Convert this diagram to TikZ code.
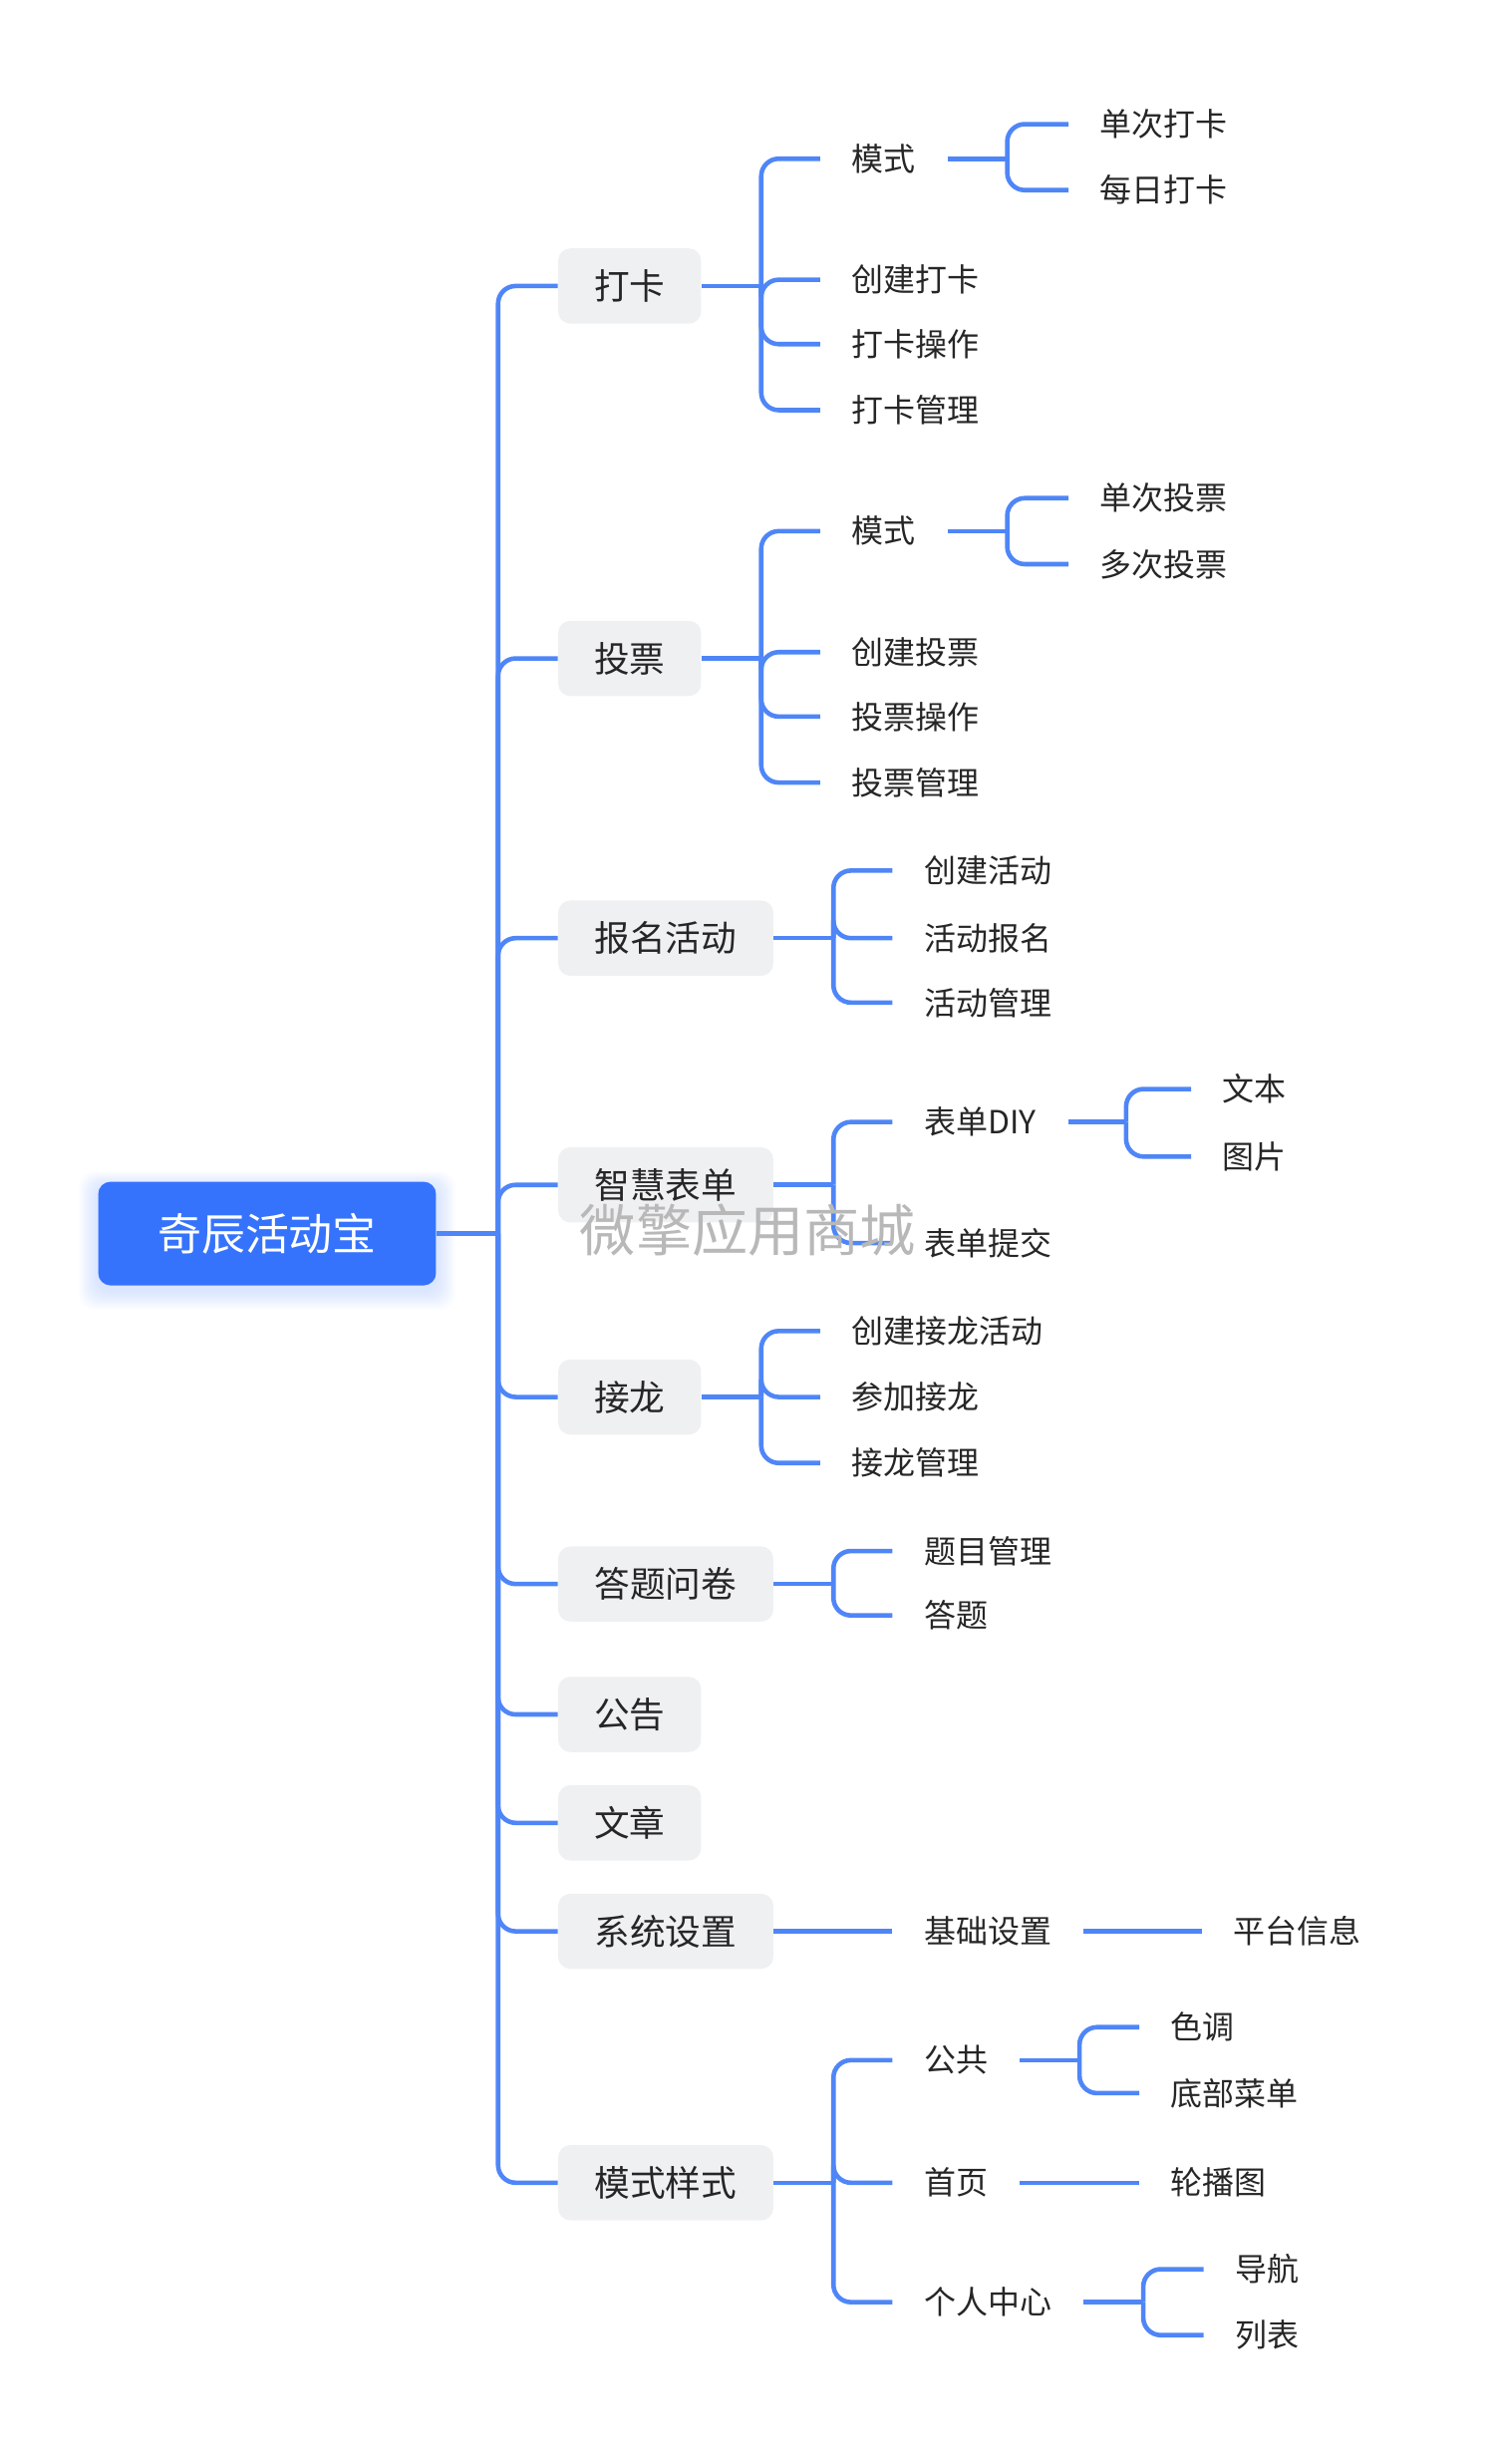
\documentclass[tikz,border=0pt]{standalone}
\usepackage{fontspec}
\setmainfont{Noto Sans CJK SC}
\usetikzlibrary{backgrounds}
\definecolor{rootblue}{HTML}{3673FD}
\definecolor{linkblue}{HTML}{4F86F7}
\definecolor{boxgray}{HTML}{EFF0F2}
\definecolor{inkdark}{HTML}{262626}
\begin{document}
\begin{tikzpicture}[x=0.031546cm, y=-0.031546cm,
	link/.style={draw=linkblue, line width=2.6pt, rounded corners=10pt},
	rootbox/.style={fill=rootblue, rounded corners=7pt, text=white, minimum width=6.78cm, minimum height=2.08cm, font=\fontsize{25}{30}\selectfont},
	topic/.style={fill=boxgray, rounded corners=7pt, text=inkdark, anchor=west, minimum height=1.51cm, font=\fontsize{20.3}{24}\selectfont},
	smalltopic/.style={topic, minimum width=2.87cm},
	widetopic/.style={topic, minimum width=4.32cm},
	leaf/.style={anchor=west, inner xsep=0.631cm, inner ysep=2pt, text=inkdark, font=\fontsize{18.2}{22}\selectfont}]
	\useasboundingbox (0,0) rectangle (951,1568);
	% root and main topics
	\node[rootbox] (root) at (170,785) {奇辰活动宝};
	\begin{scope}[on background layer]
		\foreach \i in {1,...,10}
			\fill[rootblue, opacity=0.02, rounded corners=9pt] ([shift={(-1.2*\i,-0.9*\i+3)}]root.north west) rectangle ([shift={(1.2*\i,1.2*\i+3)}]root.south east);
	\end{scope}
	\node[smalltopic] (dk) at (355,182) {打卡};
	\node[smalltopic] (tp) at (355,419) {投票};
	\node[widetopic] (bm) at (355,597) {报名活动};
	\node[widetopic] (zh) at (355,754) {智慧表单};
	\node[smalltopic] (jl) at (355,889) {接龙};
	\node[widetopic] (dt) at (355,1008) {答题问卷};
	\node[smalltopic] (gg) at (355,1091) {公告};
	\node[smalltopic] (wz) at (355,1160) {文章};
	\node[widetopic] (xt) at (355,1229) {系统设置};
	\node[widetopic] (ms) at (355,1389) {模式样式};
	\coordinate (trunk) at (317,785);
	\draw[link] (root.east) -- (trunk);
	\draw[link] (trunk) |- (dk.west);
	\draw[link] (trunk) |- (tp.west);
	\draw[link] (trunk) |- (bm.west);
	\draw[link] (trunk) |- (zh.west);
	\draw[link] (trunk) |- (jl.west);
	\draw[link] (trunk) |- (dt.west);
	\draw[link] (trunk) |- (gg.west);
	\draw[link] (trunk) |- (wz.west);
	\draw[link] (trunk) |- (xt.west);
	\draw[link] (trunk) |- (ms.west);
	% 打卡
	\node[leaf] (dkms) at (522,101) {模式};
	\node[leaf] (dkcj) at (522,178) {创建打卡};
	\node[leaf] (dkcz) at (522,219) {打卡操作};
	\node[leaf] (dkgl) at (522,261) {打卡管理};
	\node[leaf] (dkdc) at (680,79) {单次打卡};
	\node[leaf] (dkmr) at (680,121) {每日打卡};
	\path (dk.east) ++(38,0) coordinate (dkb);
	\draw[link] (dk.east) -- (dkb);
	\draw[link] (dkb) |- (dkms.west);
	\draw[link] (dkb) |- (dkcj.west);
	\draw[link] (dkb) |- (dkcz.west);
	\draw[link] (dkb) |- (dkgl.west);
	\path (dkms.east) ++(38,0) coordinate (dkmsb);
	\draw[link] (dkms.east) -- (dkmsb);
	\draw[link] (dkmsb) |- (dkdc.west);
	\draw[link] (dkmsb) |- (dkmr.west);
	% 投票
	\node[leaf] (tpms) at (522,338) {模式};
	\node[leaf] (tpcj) at (522,415) {创建投票};
	\node[leaf] (tpcz) at (522,456) {投票操作};
	\node[leaf] (tpgl) at (522,498) {投票管理};
	\node[leaf] (tpdc) at (680,317) {单次投票};
	\node[leaf] (tpdu) at (680,359) {多次投票};
	\path (tp.east) ++(38,0) coordinate (tpb);
	\draw[link] (tp.east) -- (tpb);
	\draw[link] (tpb) |- (tpms.west);
	\draw[link] (tpb) |- (tpcj.west);
	\draw[link] (tpb) |- (tpcz.west);
	\draw[link] (tpb) |- (tpgl.west);
	\path (tpms.east) ++(38,0) coordinate (tpmsb);
	\draw[link] (tpms.east) -- (tpmsb);
	\draw[link] (tpmsb) |- (tpdc.west);
	\draw[link] (tpmsb) |- (tpdu.west);
	% 报名活动
	\node[leaf] (bmcj) at (568,554) {创建活动};
	\node[leaf] (bmbm) at (568,597) {活动报名};
	\node[leaf] (bmgl) at (568,638) {活动管理};
	\path (bm.east) ++(38,0) coordinate (bmb);
	\draw[link] (bm.east) -- (bmb);
	\draw[link] (bmb) |- (bmcj.west);
	\draw[link] (bmb) |- (bmbm.west);
	\draw[link] (bmb) |- (bmgl.west);
	% 智慧表单
	\node[leaf] (zhdiy) at (568,714) {表单DIY};
	\node[leaf] (zhtj) at (568,791) {表单提交};
	\node[leaf] (zhwb) at (758,693) {文本};
	\node[leaf] (zhtp) at (758,736) {图片};
	\path (zh.east) ++(38,0) coordinate (zhb);
	\draw[link] (zh.east) -- (zhb);
	\draw[link] (zhb) |- (zhdiy.west);
	\draw[link] (zhb) |- (zhtj.west);
	\path (zhdiy.east) ++(37,0) coordinate (zhdiyb);
	\draw[link] (zhdiy.east) -- (zhdiyb);
	\draw[link] (zhdiyb) |- (zhwb.west);
	\draw[link] (zhdiyb) |- (zhtp.west);
	% 接龙
	\node[leaf] (jlcj) at (522,847) {创建接龙活动};
	\node[leaf] (jlcj2) at (522,889) {参加接龙};
	\node[leaf] (jlgl) at (522,931) {接龙管理};
	\path (jl.east) ++(38,0) coordinate (jlb);
	\draw[link] (jl.east) -- (jlb);
	\draw[link] (jlb) |- (jlcj.west);
	\draw[link] (jlb) |- (jlcj2.west);
	\draw[link] (jlb) |- (jlgl.west);
	% 答题问卷
	\node[leaf] (dtgl) at (568,987) {题目管理};
	\node[leaf] (dtdt) at (568,1028) {答题};
	\path (dt.east) ++(38,0) coordinate (dtb);
	\draw[link] (dt.east) -- (dtb);
	\draw[link] (dtb) |- (dtgl.west);
	\draw[link] (dtb) |- (dtdt.west);
	% 系统设置
	\node[leaf] (xtjc) at (568,1229) {基础设置};
	\node[leaf] (xtpt) at (765,1229) {平台信息};
	\draw[link] (xt.east) -- (xtjc.west);
	\draw[link] (xtjc.east) -- (xtpt.west);
	% 模式样式
	\node[leaf] (msgg) at (568,1311) {公共};
	\node[leaf] (mssy) at (568,1389) {首页};
	\node[leaf] (msgr) at (568,1465) {个人中心};
	\node[leaf] (msst) at (725,1290) {色调};
	\node[leaf] (mscd) at (725,1332) {底部菜单};
	\node[leaf] (mslb) at (725,1389) {轮播图};
	\node[leaf] (msdh) at (766,1444) {导航};
	\node[leaf] (msbl) at (766,1486) {列表};
	\path (ms.east) ++(38,0) coordinate (msb);
	\draw[link] (ms.east) -- (msb);
	\draw[link] (msb) |- (msgg.west);
	\draw[link] (msb) |- (mssy.west);
	\draw[link] (msb) |- (msgr.west);
	\path (msgg.east) ++(38,0) coordinate (msggb);
	\draw[link] (msgg.east) -- (msggb);
	\draw[link] (msggb) |- (msst.west);
	\draw[link] (msggb) |- (mscd.west);
	\draw[link] (mssy.east) -- (mslb.west);
	\path (msgr.east) ++(38,0) coordinate (msgrb);
	\draw[link] (msgr.east) -- (msgrb);
	\draw[link] (msgrb) |- (msdh.west);
	\draw[link] (msgrb) |- (msbl.west);
	% watermark
	\node[text=black!28, font=\fontsize{32}{38}\selectfont] (mark) at (476,783) {微擎应用商城};
\end{tikzpicture}
\end{document}
